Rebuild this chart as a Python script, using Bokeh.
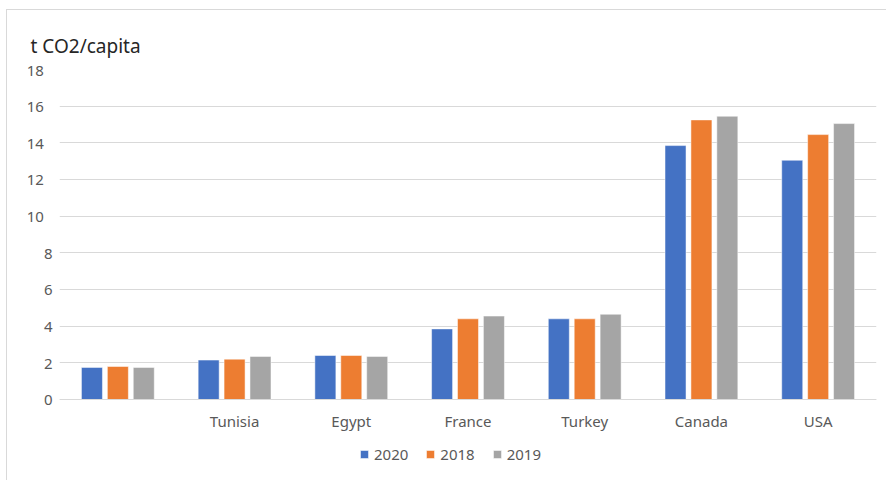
from bokeh.plotting import figure
from bokeh.models import (ColumnDataSource, FactorRange, Range1d, Legend, LegendItem,
                          FixedTicker)
from bokeh.transform import dodge
from bokeh.embed import file_html
from bokeh.resources import INLINE

categories = [" ", "Tunisia", "Egypt", "France", "Turkey", "Canada", "USA"]
v2020 = [1.75, 2.15, 2.4, 3.85, 4.4, 13.85, 13.05]
v2018 = [1.8, 2.2, 2.4, 4.4, 4.4, 15.25, 14.45]
v2019 = [1.75, 2.35, 2.35, 4.55, 4.65, 15.45, 15.05]
series = ["2020", "2018", "2019"]
colors = ["#4472C4", "#ED7D31", "#A5A5A5"]
y_ticks = [0, 2, 4, 6, 8, 10, 12, 14, 16, 18]
y_min_visible = -4.31   # space below the baseline holding category labels and legend

src = ColumnDataSource(dict(cat=categories, v2020=v2020, v2018=v2018, v2019=v2019))

FONT = "Noto Sans"
p = figure(x_range=FactorRange(*categories, range_padding=0), y_range=Range1d(y_min_visible, 18),
           width=880, height=471, output_backend="svg", toolbar_location=None,
           title="t CO2/capita",
           min_border_left=52, min_border_right=11, min_border_top=59, min_border_bottom=3)
p.styles = {"margin-left": "6px", "margin-top": "9px",
            "border-left": "1px solid #d9d9d9", "border-top": "1px solid #d9d9d9"}
p.outline_line_color = None
p.background_fill_color = "white"
p.title.text_font = FONT
p.title.text_font_size = "19px"
p.title.text_font_style = "normal"
p.title.text_color = "#262626"
p.title.align = "left"
p.title.offset = -29
p.title.standoff = 21

offsets = [-0.222, 0.0, 0.222]
cols = ["v2020", "v2018", "v2019"]
items = []
for s, c, off, col in zip(series, colors, offsets, cols):
    r = p.vbar(x=dodge("cat", off, range=p.x_range), top=col, width=0.18, source=src,
               fill_color=c, line_color="white", line_width=0.5)
    items.append(LegendItem(label=s, renderers=[r]))

p.xgrid.grid_line_color = None
p.ygrid.grid_line_color = "#d9d9d9"
p.ygrid.ticker = FixedTicker(ticks=y_ticks)

ya = p.yaxis[0]
ya.ticker = FixedTicker(ticks=y_ticks)
# two-digit labels sit one digit further left in the reference
ya.major_label_overrides = {t: (str(t) + "\u2007" if t >= 10 else str(t)) for t in y_ticks}
ya.axis_line_color = None
ya.major_tick_line_color = None
ya.minor_tick_line_color = None
ya.major_tick_out = 0
ya.major_tick_in = 0
ya.minor_tick_out = 0
ya.minor_tick_in = 0
ya.major_label_text_color = "#595959"
ya.major_label_text_font = FONT
ya.major_label_text_font_size = "15px"
ya.major_label_standoff = 7

xa = p.xaxis[0]
xa.fixed_location = 0
xa.axis_line_color = "#d9d9d9"
xa.major_tick_line_color = None
xa.minor_tick_line_color = None
xa.major_tick_out = 0
xa.major_label_text_color = "#595959"
xa.major_label_text_font = FONT
xa.major_label_text_font_size = "15px"
xa.major_label_standoff = 12

legend = Legend(items=items, orientation="horizontal", location=(300, 14),
                glyph_width=10, glyph_height=10, label_standoff=5, spacing=17,
                label_text_color="#595959", label_text_font=FONT, label_text_font_size="15px",
                border_line_color=None, background_fill_alpha=0, padding=4, margin=0)
p.add_layout(legend)

open("out.html", "w").write(file_html(p, INLINE))
